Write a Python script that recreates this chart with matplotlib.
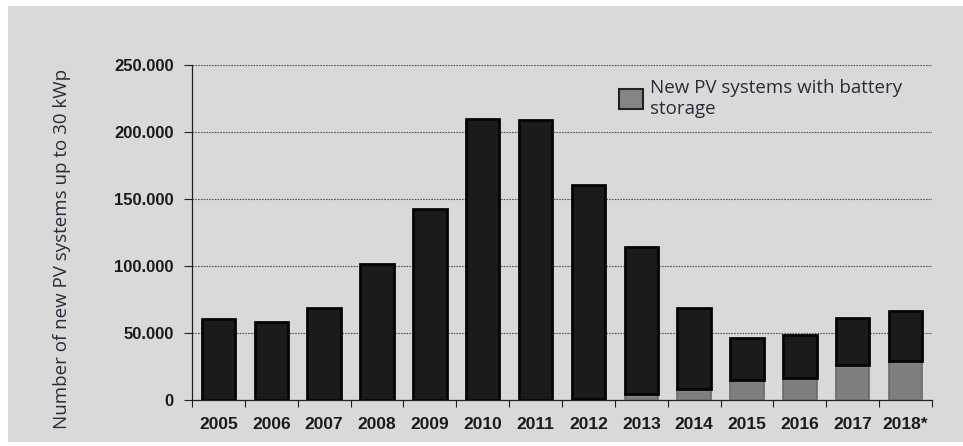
import matplotlib
matplotlib.use('Agg')
import matplotlib.pyplot as plt
from matplotlib.patches import Rectangle, Patch
from matplotlib.ticker import FuncFormatter, FixedLocator
import numpy as np

years = ['2005', '2006', '2007', '2008', '2009', '2010', '2011',
         '2012', '2013', '2014', '2015', '2016', '2017', '2018*']
# total new PV systems (up to 30 kWp) per year
total = [60500, 58200, 69000, 101800, 142300, 209800, 208700,
         160200, 114200, 69000, 46500, 48300, 61500, 66500]
# of which with battery storage
battery = [0, 0, 0, 0, 0, 0, 0, 1000, 4200, 8500, 14700, 16300, 25900, 29200]

legend_label = 'New PV systems with battery\nstorage'
ylabel = 'Number of new PV systems up to 30 kWp'

W, H = 963, 446
fig = plt.figure(figsize=(W / 100, H / 100), dpi=100)
fig.patch.set_facecolor('white')
# grey panel behind the chart
fig.patches.append(Rectangle((8 / W, 4 / H), 1 - 8 / W, 1 - 10 / H,
                             transform=fig.transFigure, facecolor='#d9d9d9',
                             edgecolor='none', zorder=-10))

ax = fig.add_axes([192 / W, 1 - 400 / H, (932 - 192) / W, (400 - 65) / H])
ax.set_facecolor('none')

x = np.arange(len(years))
rest = [t - b for t, b in zip(total, battery)]
ax.bar(x, battery, width=0.63, color='#7f7f7f', edgecolor='#6a6a6a',
       linewidth=1.2, zorder=3)
ax.bar(x, rest, bottom=battery, width=0.63, color='#1b1b1b', edgecolor='#050505',
       linewidth=2, zorder=3)

ax.set_xlim(-0.5, len(years) - 0.5)
ax.set_ylim(0, 250000)
ax.set_yticks(np.arange(0, 250001, 50000))
ax.yaxis.set_major_formatter(FuncFormatter(lambda v, p: f'{int(v):,}'.replace(',', '.')))
ax.yaxis.grid(True, color='#555555', linestyle=(0, (1.5, 1)), linewidth=0.8, zorder=1)
ax.set_axisbelow(True)

ax.set_xticks(x)
ax.set_xticklabels(years)
ax.xaxis.set_minor_locator(FixedLocator(np.arange(-0.5, len(years), 1.0)))
ax.tick_params(axis='x', which='major', length=0, pad=12)
ax.tick_params(axis='x', which='minor', length=5, width=0.8, color='#222222', direction='out')
ax.tick_params(axis='y', length=6, width=0.8, color='#222222', direction='out', pad=7)

for lab in ax.get_xticklabels():
    lab.set_fontsize(12.5)
for lab in ax.get_yticklabels():
    lab.set_fontsize(12)
for lab in ax.get_xticklabels() + ax.get_yticklabels():
    lab.set_fontfamily('Liberation Sans')
    lab.set_fontweight('bold')
    lab.set_color('#1a1a1a')

for s in ['top', 'right']:
    ax.spines[s].set_visible(False)
ax.spines['left'].set_color('#222222')
ax.spines['bottom'].set_color('#222222')
ax.spines['left'].set_linewidth(0.9)
ax.spines['bottom'].set_linewidth(0.9)

fig.text(62 / W, 1 - 249 / H, ylabel, rotation=90, ha='center', va='center',
         fontsize=13.5, family='Open Sans', color='#2a2a3a')

handle = Patch(facecolor='#858585', edgecolor='#222222', linewidth=1.5)
ax.legend([handle], [legend_label], loc='upper left',
          bbox_to_anchor=(619 / W, 1 - 79 / H), bbox_transform=fig.transFigure,
          frameon=False, borderpad=0, borderaxespad=0, handlelength=1.3,
          handleheight=1.3, handletextpad=0.35, labelspacing=0.2,
          prop={'family': 'Open Sans', 'size': 13.5}, labelcolor='#2a2a3a')

fig.savefig('out.png', dpi=100)
